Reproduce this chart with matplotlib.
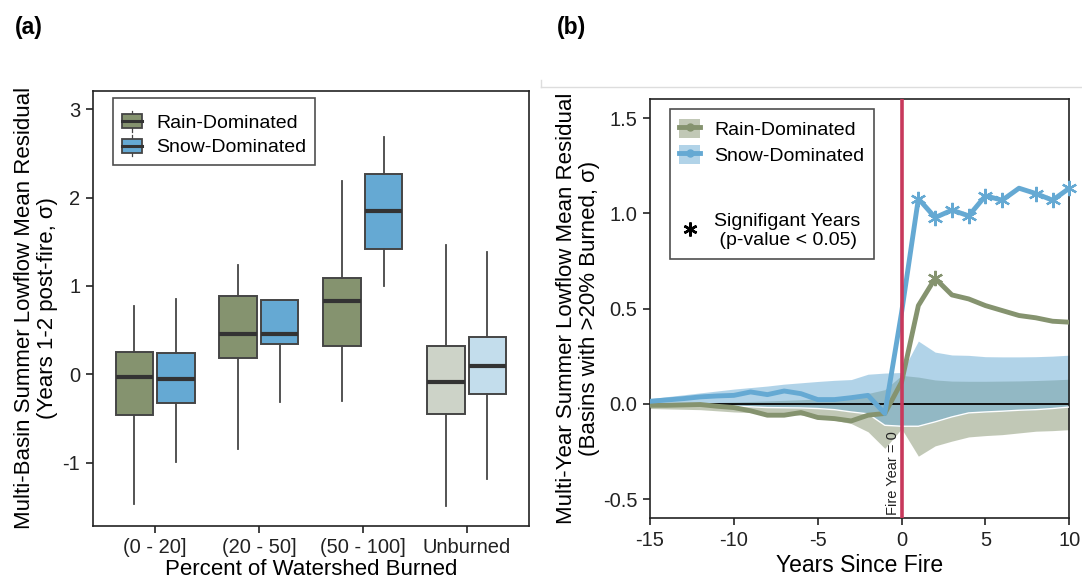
import numpy as np
import matplotlib
matplotlib.use("Agg")
import matplotlib.pyplot as plt
from matplotlib.legend_handler import HandlerBase
from matplotlib.patches import Rectangle, Patch
from matplotlib.lines import Line2D

plt.rcParams["font.family"] = ["Liberation Sans", "DejaVu Sans"]

# ---- panel (a): box statistics per burn class ----
burn_classes = ["(0 - 20]", "(20 - 50]", "(50 - 100]", "Unburned"]
# whislo, q1, median, q3, whishi
rain_stats = [
    [-1.468, -0.457, -0.030, 0.249, 0.777],
    [-0.849, 0.185, 0.460, 0.887, 1.238],
    [-0.298, 0.317, 0.826, 1.094, 2.189],
    [-1.487, -0.445, -0.091, 0.321, 1.468],
]
snow_stats = [
    [-0.996, -0.328, -0.049, 0.238, 0.849],
    [-0.317, 0.347, 0.460, 0.838, 0.838],
    [1.004, 1.423, 1.849, 2.268, 2.687],
    [-1.189, -0.223, 0.091, 0.423, 1.389],
]

# ---- panel (b): multi-year residual series ----
years = list(range(-15, 11))
rain_mean = [-0.007, -0.007, -0.005, -0.003, -0.012, -0.019, -0.036, -0.059, -0.059,
             -0.045, -0.071, -0.077, -0.089, -0.059, -0.050, 0.115, 0.516, 0.659,
             0.572, 0.551, 0.516, 0.490, 0.464, 0.452, 0.434, 0.429]
snow_mean = [0.014, 0.021, 0.028, 0.037, 0.042, 0.045, 0.063, 0.049, 0.068, 0.054,
             0.023, 0.023, 0.033, 0.045, -0.050, 0.480, 1.077, 0.978, 1.017, 0.987,
             1.092, 1.069, 1.132, 1.104, 1.069, 1.132]
rain_upper = [0.0, 0.002, 0.004, 0.006, 0.008, 0.010, 0.013, 0.016, 0.019, 0.022,
              0.027, 0.031, 0.035, 0.055, 0.075, 0.150, 0.141, 0.126, 0.120, 0.119,
              0.119, 0.120, 0.121, 0.123, 0.126, 0.130]
rain_lower = [-0.024, -0.026, -0.028, -0.030, -0.036, -0.042, -0.045, -0.047, -0.053,
              -0.059, -0.068, -0.085, -0.103, -0.146, -0.233, -0.130, -0.274, -0.220,
              -0.195, -0.173, -0.166, -0.161, -0.152, -0.143, -0.140, -0.135]
snow_upper = [0.028, 0.038, 0.048, 0.058, 0.068, 0.078, 0.086, 0.094, 0.104, 0.111,
              0.118, 0.124, 0.128, 0.156, 0.162, 0.165, 0.330, 0.272, 0.257, 0.255,
              0.248, 0.247, 0.247, 0.248, 0.251, 0.256]
snow_lower = [-0.003, -0.004, -0.005, -0.006, -0.009, -0.012, -0.015, -0.019, -0.020,
              -0.021, -0.024, -0.030, -0.042, -0.052, -0.112, -0.117, -0.117, -0.094,
              -0.068, -0.047, -0.042, -0.038, -0.033, -0.030, -0.024, -0.016]
rain_signif = [2]
snow_signif = [1, 2, 3, 4, 5, 6, 8, 9, 10]

GREEN = "#85936f"
BLUE = "#65a9d3"
GREEN_LIGHT = "#cdd3c8"
BLUE_LIGHT = "#c3ddec"
EDGE = "#454545"
FIRE_RED = "#c8395c"
ASTERISK = (6, 2, 0)


class BoxHandler(HandlerBase):
    """Small boxplot glyph for legend entries."""
    def create_artists(self, legend, orig_handle, xdescent, ydescent,
                       width, height, fontsize, trans):
        fc = orig_handle.get_facecolor()
        bh = height
        y0 = -ydescent
        x0 = -xdescent
        rect = Rectangle((x0, y0), width, bh, facecolor=fc, edgecolor=EDGE,
                         lw=1.3, transform=trans)
        med = Line2D([x0, x0 + width], [y0 + bh / 2] * 2, color="#333333",
                     lw=2.2, transform=trans)
        wt = Line2D([x0 + width / 2] * 2, [y0 + bh, y0 + bh + 2.5], color=EDGE,
                    lw=0.9, transform=trans)
        wb = Line2D([x0 + width / 2] * 2, [y0 - 2.5, y0], color=EDGE,
                    lw=0.9, transform=trans)
        return [wt, wb, rect, med]


def style_axes(ax):
    for sp in ax.spines.values():
        sp.set_linewidth(1.2)
        sp.set_color("#222222")
    ax.tick_params(axis="both", direction="out", length=5, width=1.2,
                   labelsize=14.5, colors="#222222", pad=4)
    ax.tick_params(top=False, right=False)


fig = plt.figure(figsize=(10.82, 5.81), dpi=100)

# ---------------- (a) ----------------
ax1 = fig.add_axes([0.0857, 0.0952, 0.4032, 0.7487])
pos = np.arange(len(burn_classes))


def make_stats(rows):
    return [dict(whislo=r[0], q1=r[1], med=r[2], q3=r[3], whishi=r[4], fliers=[])
            for r in rows]


for stats, off, cols in [
    (rain_stats, -0.2, [GREEN, GREEN, GREEN, GREEN_LIGHT]),
    (snow_stats, 0.2, [BLUE, BLUE, BLUE, BLUE_LIGHT]),
]:
    bp = ax1.bxp(make_stats(stats), positions=pos + off, widths=0.36,
                 patch_artist=True, showfliers=False, showcaps=False,
                 boxprops=dict(edgecolor=EDGE, linewidth=1.4),
                 whiskerprops=dict(color=EDGE, linewidth=1.3),
                 medianprops=dict(color="#333333", linewidth=3),
                 manage_ticks=False)
    for patch, c in zip(bp["boxes"], cols):
        patch.set_facecolor(c)

ax1.set_xlim(-0.6, 3.6)
ax1.set_ylim(-1.714, 3.21)
ax1.set_xticks(pos)
ax1.set_xticklabels(burn_classes)
ax1.set_yticks([-1, 0, 1, 2, 3])
ax1.set_yticklabels(["-1", "0", "1", "2", "3"])
style_axes(ax1)
ax1.set_xlabel("Percent of Watershed Burned", fontsize=16, labelpad=1)
ax1.set_ylabel("Multi-Basin Summer Lowflow Mean Residual\n(Years 1-2 post-fire, σ)",
               fontsize=16, labelpad=3, linespacing=1.15)

# a tiny blank title gives the legend its extra top padding
leg1 = ax1.legend([Patch(facecolor=GREEN), Patch(facecolor=BLUE)],
                  ["Rain-Dominated", "Snow-Dominated"],
                  handler_map={Patch: BoxHandler()},
                  loc="upper left", bbox_to_anchor=(0.047, 0.984),
                  fontsize=14, frameon=True, fancybox=False,
                  title=" ", title_fontsize=1,
                  handlelength=1.03, handleheight=0.72, handletextpad=0.75,
                  labelspacing=0.35, borderpad=0.45, borderaxespad=0)
leg1.get_frame().set_edgecolor("#222222")
leg1.get_frame().set_linewidth(1.2)

# ---------------- (b) ----------------
ax2 = fig.add_axes([0.6007, 0.1079, 0.3876, 0.7217])

ax2.fill_between(years, rain_lower, rain_upper, color=GREEN, alpha=0.5, lw=0, zorder=1)
ax2.fill_between(years, snow_lower, snow_upper, color=BLUE, alpha=0.5, lw=0, zorder=2)
ax2.plot(years, snow_lower, color="white", lw=1.0, zorder=3)
ax2.axhline(0, color="#111111", lw=1.4, zorder=4)

ax2.plot(years, rain_mean, color=GREEN, lw=3.5, solid_joinstyle="round", zorder=5)
ax2.plot(years, snow_mean, color=BLUE, lw=3.5, solid_joinstyle="round", zorder=6)
rs = [years.index(y) for y in rain_signif]
ss = [years.index(y) for y in snow_signif]
ax2.plot([years[i] for i in rs], [rain_mean[i] for i in rs], ls="none",
         marker=ASTERISK, ms=11, mew=1.6, color=GREEN, zorder=5, clip_on=False)
ax2.plot([years[i] for i in ss], [snow_mean[i] for i in ss], ls="none",
         marker=ASTERISK, ms=11, mew=1.6, color=BLUE, zorder=6, clip_on=False)

ax2.axvline(0, color=FIRE_RED, lw=2.6, zorder=7)
ax2.text(-0.1, -0.585, "Fire Year = 0", rotation=90, ha="right", va="bottom",
         fontsize=10.5, color="#222222", zorder=8)

ax2.set_xlim(-15, 10)
ax2.set_ylim(-0.6, 1.6)
ax2.set_xticks([-15, -10, -5, 0, 5, 10])
ax2.set_xticklabels(["-15", "-10", "-5", "0", "5", "10"])
ax2.set_yticks([-0.5, 0.0, 0.5, 1.0, 1.5])
ax2.set_yticklabels(["-0.5", "0.0", "0.5", "1.0", "1.5"])
style_axes(ax2)
ax2.set_xlabel("Years Since Fire", fontsize=16.5, labelpad=3)
ax2.set_ylabel("Multi-Year Summer Lowflow Mean Residual\n(Basins with >20% Burned, σ)",
               fontsize=16, labelpad=2, linespacing=1.15)

rain_h = (Patch(facecolor=GREEN, alpha=0.5, lw=0),
          Line2D([], [], color=GREEN, lw=3.5, marker="o", ms=5))
snow_h = (Patch(facecolor=BLUE, alpha=0.5, lw=0),
          Line2D([], [], color=BLUE, lw=3.5, marker="o", ms=5))
blank_h = Line2D([], [], ls="none")
sig_h = Line2D([], [], ls="none", marker=ASTERISK, ms=10, mew=1.8, color="black")
leg2 = ax2.legend([rain_h, snow_h, blank_h, sig_h],
                  ["Rain-Dominated", "Snow-Dominated", " ",
                   "Signifigant Years\n (p-value < 0.05)"],
                  loc="upper left", bbox_to_anchor=(0.047, 0.975),
                  fontsize=14, frameon=True, fancybox=False,
                  handlelength=1.07, handleheight=1.1, handletextpad=0.72,
                  labelspacing=0.3, borderpad=0.5, borderaxespad=0)
leg2.get_texts()[2].set_fontsize(28)
leg2.get_frame().set_edgecolor("#222222")
leg2.get_frame().set_linewidth(1.2)
leg2.set_zorder(10)

# panel letters and the thin rule above (b)
fig.text(0.0139, 0.953, "(a)", fontsize=16.5, fontweight="bold", va="center")
fig.text(0.5145, 0.953, "(b)", fontsize=16.5, fontweight="bold", va="center")
fig.add_artist(Line2D([0.5, 1.0], [0.85, 0.85], transform=fig.transFigure,
                      color="#dddddd", lw=1))
fig.add_artist(Line2D([0.5, 0.5], [0.85, 0.862], transform=fig.transFigure,
                      color="#dddddd", lw=1))

fig.savefig("out.png", dpi=100)
